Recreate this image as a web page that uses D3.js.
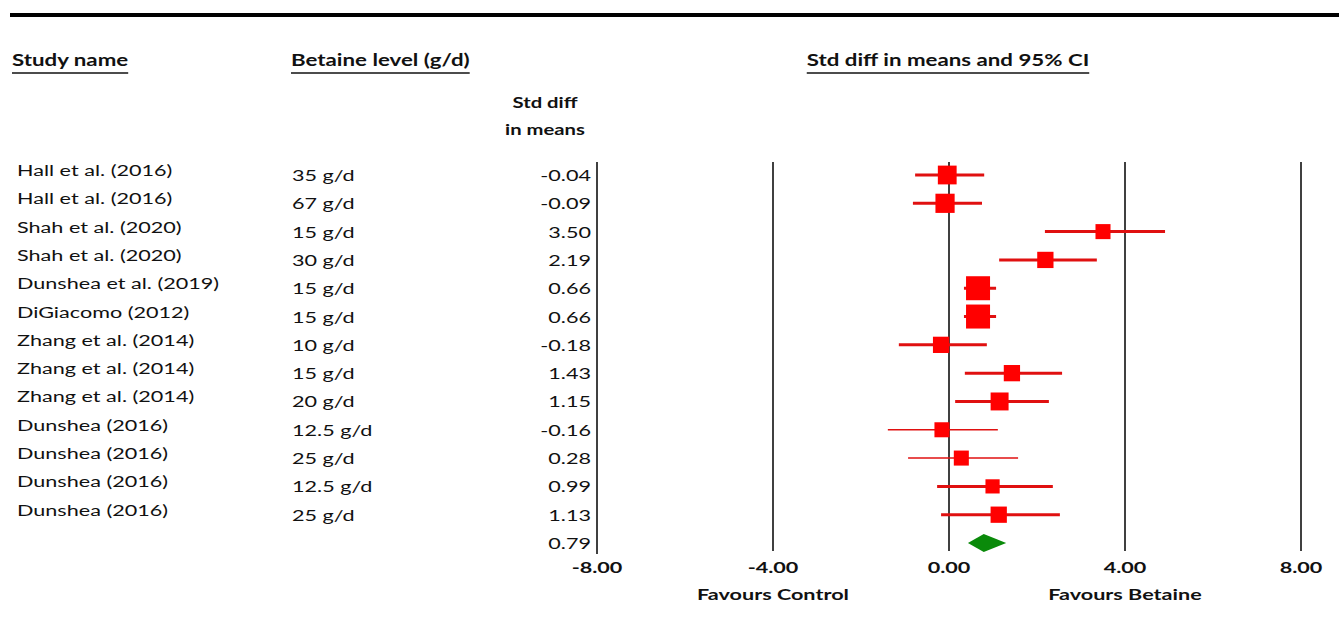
<!doctype html>
<html lang="en">
<head>
<meta charset="utf-8">
<title>Forest plot - Betaine</title>
<script src="https://d3js.org/d3.v7.min.js"></script>
<style>
  body { margin: 0; background: #fff; }
  svg text { font-family: Lato, "Open Sans", sans-serif; fill: #111; }
  .bold { font-weight: bold; }
</style>
</head>
<body>
<div id="chart"></div>
<script>
// study rows
const studies = ["Hall et al. (2016)", "Hall et al. (2016)", "Shah et al. (2020)", "Shah et al. (2020)",
  "Dunshea et al. (2019)", "DiGiacomo (2012)", "Zhang et al. (2014)", "Zhang et al. (2014)",
  "Zhang et al. (2014)", "Dunshea (2016)", "Dunshea (2016)", "Dunshea (2016)", "Dunshea (2016)"];
const levels = ["35 g/d", "67 g/d", "15 g/d", "30 g/d", "15 g/d", "15 g/d", "10 g/d", "15 g/d",
  "20 g/d", "12.5 g/d", "25 g/d", "12.5 g/d", "25 g/d"];
const smd = [-0.04, -0.09, 3.50, 2.19, 0.66, 0.66, -0.18, 1.43, 1.15, -0.16, 0.28, 0.99, 1.13];
const lower = [-0.77, -0.82, 2.18, 1.14, 0.34, 0.34, -1.14, 0.36, 0.14, -1.39, -0.93, -0.27, -0.18];
const upper = [0.80, 0.75, 4.91, 3.36, 1.07, 1.07, 0.86, 2.57, 2.27, 1.11, 1.57, 2.36, 2.52];
const weight = [9.0, 9.2, 7.2, 7.8, 11.5, 11.5, 7.8, 7.8, 8.6, 7.2, 7.2, 6.8, 7.8];

// pooled estimate
const pooled = 0.79, pooledLow = 0.43, pooledHigh = 1.30;

const ticks = [-8, -4, 0, 4, 8];

const W = 1339, H = 637;
const SX = 1.35; // horizontal stretch of the text, as in the original
const fmt = v => d3.format(".2f")(v).replace("\u2212", "-");

const svg = d3.select("#chart").append("svg").attr("width", W).attr("height", H);

const x = d3.scaleLinear().domain([-8, 8]).range([597, 1301]);
const y = d3.scaleLinear().domain([0, 13]).range([175, 543]);
const size = d3.scaleLinear().domain([0, 11.5]).range([0, 24]);

// put a stretched text at (px, py)
function label(g, txt, px, py, opts) {
  opts = opts || {};
  return g.append("text")
    .attr("class", opts.bold ? "bold" : null)
    .attr("font-size", opts.size || 16)
    .attr("text-anchor", opts.anchor || "start")
    .attr("transform", `translate(${px},${py}) scale(${SX},1)`)
    .text(txt);
}

// top rule
svg.append("line").attr("x1", 10).attr("x2", W).attr("y1", 15).attr("y2", 15)
  .attr("stroke", "#000").attr("stroke-width", 4);

// headers
function header(txt, x0, anchor) {
  const t = label(svg, txt, x0, 66, { bold: true, size: 16.5, anchor: anchor });
  const b = t.node().getBBox();
  svg.append("line").attr("x1", x0 + b.x * SX).attr("x2", x0 + (b.x + b.width) * SX)
    .attr("y1", 73).attr("y2", 73)
    .attr("stroke", "#111").attr("stroke-width", 1.5);
}
header("Study name", 12);
header("Betaine level (g/d)", 291);
header("Std diff in means and 95% CI", 948, "middle");

label(svg, "Std diff", 545, 108, { bold: true, size: 15, anchor: "middle" });
label(svg, "in means", 545, 135, { bold: true, size: 15, anchor: "middle" });

// reference lines at each tick
svg.append("g").selectAll("line").data(ticks).join("line")
  .attr("x1", d => x(d)).attr("x2", d => x(d))
  .attr("y1", 162).attr("y2", d => d === -8 ? 554 : 551)
  .attr("stroke", "#000").attr("stroke-width", 1.5);

// axis tick labels
const tg = svg.append("g");
ticks.forEach(d => label(tg, fmt(d), x(d), 573, { bold: true, size: 16, anchor: "middle" }));

label(svg, "Favours Control", x(-4), 600, { bold: true, size: 16, anchor: "middle" });
label(svg, "Favours Betaine", x(4), 600, { bold: true, size: 16, anchor: "middle" });

const idx = d3.range(studies.length);

// text columns
const cols = svg.append("g");
idx.forEach(i => {
  label(cols, studies[i], 17, y(i) + 1);
  label(cols, levels[i], 292, y(i) + 6);
  label(cols, fmt(smd[i]), 591, y(i) + 6, { anchor: "end" });
});
label(cols, fmt(pooled), 591, y(13) + 6, { anchor: "end" });

// CI lines
svg.append("g").selectAll("line").data(idx).join("line")
  .attr("x1", i => x(lower[i])).attr("x2", i => x(upper[i]))
  .attr("y1", i => y(i)).attr("y2", i => y(i))
  .attr("stroke", "#e01010")
  .attr("stroke-width", i => (i === 9 || i === 10) ? 1.5 : 3);

// squares
svg.append("g").selectAll("rect").data(idx).join("rect")
  .attr("x", i => x(smd[i]) - size(weight[i]) / 2)
  .attr("y", i => y(i) - size(weight[i]) / 2)
  .attr("width", i => size(weight[i])).attr("height", i => size(weight[i]))
  .attr("fill", "#ff0000");

// pooled diamond
const yd = y(13);
svg.append("path")
  .attr("d", `M${x(pooledLow)},${yd} L${x(pooled)},${yd - 9} L${x(pooledHigh)},${yd} L${x(pooled)},${yd + 9} Z`)
  .attr("fill", "#0a8a0a");
</script>
</body>
</html>
